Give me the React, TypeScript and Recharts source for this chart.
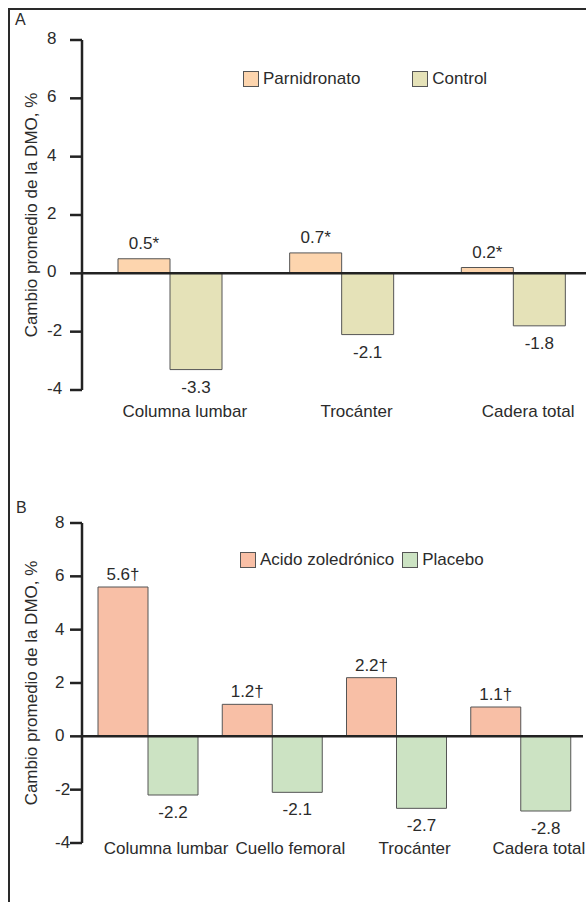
import React from 'react';
import { BarChart, Bar, XAxis, YAxis, ReferenceLine, Legend, LabelList, Label } from 'recharts';

// Panel A
const SITES_A = ['Columna lumbar', 'Trocánter', 'Cadera total'];
const PAMIDRONATO = [0.5, 0.7, 0.2];
const CONTROL = [-3.3, -2.1, -1.8];

// Panel B
const SITES_B = ['Columna lumbar', 'Cuello femoral', 'Trocánter', 'Cadera total'];
const ZOLEDRONICO = [5.6, 1.2, 2.2, 1.1];
const PLACEBO = [-2.2, -2.1, -2.7, -2.8];

const Y_TICKS = [-4, -2, 0, 2, 4, 6, 8];
const Y_TITLE = 'Cambio promedio de la DMO, %';

const INK = '#2b2b2b';
const FONT = "'Liberation Sans', Arial, Helvetica, sans-serif";
const SERIES_ORDER = ['treat', 'ctrl'];

const dataA = SITES_A.map((site, i) => ({ site, treat: PAMIDRONATO[i], ctrl: CONTROL[i] }));
const dataB = SITES_B.map((site, i) => ({ site, treat: ZOLEDRONICO[i], ctrl: PLACEBO[i] }));

const makeValueLabel = (mark: string, above: number) => (props: any) => {
  const { x, y, width, height } = props;
  const v = Number(props.value);
  const top = Math.min(y, y + height);
  const bottom = Math.max(y, y + height);
  const pos = v >= 0;
  return (
    <text x={x + width / 2} y={pos ? top - above : bottom + 23} textAnchor="middle" fontSize={17} fill={INK}>
      {v.toFixed(1)}
      {pos ? mark : ''}
    </text>
  );
};

const makeCategoryTick = (dx: number, dy: number) => (props: any) => (
  <text x={props.x + dx} y={props.y + dy} textAnchor="middle" fontSize={17} fill={INK}>
    {props.payload.value}
  </text>
);

const makeValueTick = (dx: number, dy: number) => (props: any) => (
  <text x={props.x + dx} y={props.y + dy} textAnchor="start" fontSize={17} fill={INK}>
    {props.payload.value}
  </text>
);

const AxisTitle = (props: any) => {
  const vb = props.viewBox || { x: 0, y: 0, height: 0 };
  const cx = vb.x + 37;
  const cy = vb.y + vb.height / 2;
  return (
    <text x={cx} y={cy} transform={`rotate(-90, ${cx}, ${cy})`} textAnchor="middle" fontSize={17} fill={INK}>
      {Y_TITLE}
    </text>
  );
};

const makeLegend = (gap: number, colors: Record<string, string>) => (props: any) => {
  const items = [...(props.payload || [])].sort(
    (a: any, b: any) => SERIES_ORDER.indexOf(a.dataKey) - SERIES_ORDER.indexOf(b.dataKey)
  );
  return (
    <div style={{ display: 'flex', alignItems: 'center', whiteSpace: 'nowrap' }}>
      {items.map((e: any, i: number) => (
        <div key={e.value} style={{ display: 'flex', alignItems: 'center', marginLeft: i ? gap : 0 }}>
          <span
            style={{
              display: 'inline-block',
              width: 14,
              height: 14,
              background: colors[e.dataKey],
              border: '1px solid #555',
            }}
          />
          <span style={{ marginLeft: 4, fontSize: 17, color: INK, lineHeight: '20px' }}>{e.value}</span>
        </div>
      ))}
    </div>
  );
};

const COLORS_A = { treat: '#fdd5ae', ctrl: '#e5e2b8' };
const COLORS_B = { treat: '#f8bfa6', ctrl: '#cce3c3' };

const App: React.FC = () => {
  return (
    <div
      style={{
        position: 'absolute',
        left: 0,
        top: 0,
        width: 586,
        height: 902,
        overflow: 'hidden',
        background: '#fff',
        fontFamily: FONT,
      }}
    >
      {/* frame */}
      <div
        style={{
          position: 'absolute',
          left: 8,
          top: 8,
          width: 600,
          height: 900,
          borderTop: '2px solid #2a2a2a',
          borderLeft: '2px solid #2a2a2a',
        }}
      />
      <div style={{ position: 'absolute', left: 15, top: 12, fontSize: 16, lineHeight: '16px', color: INK }}>A</div>
      <div style={{ position: 'absolute', left: 16, top: 500, fontSize: 16, lineHeight: '16px', color: INK }}>B</div>

      <div style={{ position: 'absolute', left: 0, top: 0 }}>
        <BarChart
          width={600}
          height={430}
          data={dataA}
          margin={{ top: 40, right: 1, left: 0, bottom: 0 }}
          barCategoryGap={34}
          barGap={0}
        >
          <XAxis
            dataKey="site"
            height={40}
            axisLine={false}
            tickLine={false}
            tickSize={0}
            tickMargin={0}
            padding={{ left: 2, right: 0 }}
            interval={0}
            tick={makeCategoryTick(15, 27)}
          />
          <YAxis
            width={82}
            domain={[-4, 8]}
            ticks={Y_TICKS}
            allowDataOverflow
            tickSize={12}
            tickMargin={0}
            axisLine={{ stroke: '#222', strokeWidth: 2.5 }}
            tickLine={{ stroke: '#222', strokeWidth: 2.5 }}
            tick={makeValueTick(-23, 4)}
          >
            <Label content={AxisTitle} />
          </YAxis>
          <Legend
            layout="vertical"
            verticalAlign="middle"
            align="center"
            wrapperStyle={{ top: 69, left: 243, width: 360 }}
            content={makeLegend(52, COLORS_A)}
          />
          <Bar dataKey="treat" name="Parnidronato" fill={COLORS_A.treat} stroke="#555" strokeWidth={1} isAnimationActive={false}>
            <LabelList dataKey="treat" content={makeValueLabel('*', 10)} />
          </Bar>
          <Bar dataKey="ctrl" name="Control" fill={COLORS_A.ctrl} stroke="#555" strokeWidth={1} isAnimationActive={false}>
            <LabelList dataKey="ctrl" content={makeValueLabel('*', 10)} />
          </Bar>
          <ReferenceLine y={0} stroke="#222" strokeWidth={2.5} />
        </BarChart>
      </div>

      <div style={{ position: 'absolute', left: 0, top: 440 }}>
        <BarChart
          width={586}
          height={440}
          data={dataB}
          margin={{ top: 83, right: 3, left: 0, bottom: 0 }}
          barCategoryGap={12}
          barGap={0}
        >
          <XAxis
            dataKey="site"
            height={37}
            axisLine={false}
            tickLine={false}
            tickSize={0}
            tickMargin={0}
            padding={{ left: 4, right: 0 }}
            interval={0}
            tick={makeCategoryTick(18, 11)}
          />
          <YAxis
            width={82}
            domain={[-4, 8]}
            ticks={Y_TICKS}
            allowDataOverflow
            tickSize={12}
            tickMargin={0}
            axisLine={{ stroke: '#222', strokeWidth: 2.5 }}
            tickLine={{ stroke: '#222', strokeWidth: 2.5 }}
            tick={makeValueTick(-15, 5)}
          >
            <Label content={AxisTitle} />
          </YAxis>
          <Legend
            layout="vertical"
            verticalAlign="middle"
            align="center"
            wrapperStyle={{ top: 110, left: 240, width: 340 }}
            content={makeLegend(8, COLORS_B)}
          />
          <Bar dataKey="treat" name="Acido zoledrónico" fill={COLORS_B.treat} stroke="#555" strokeWidth={1} isAnimationActive={false}>
            <LabelList dataKey="treat" content={makeValueLabel('†', 7)} />
          </Bar>
          <Bar dataKey="ctrl" name="Placebo" fill={COLORS_B.ctrl} stroke="#555" strokeWidth={1} isAnimationActive={false}>
            <LabelList dataKey="ctrl" content={makeValueLabel('†', 7)} />
          </Bar>
          <ReferenceLine y={0} stroke="#222" strokeWidth={2.5} />
        </BarChart>
      </div>
    </div>
  );
};

export default App;
